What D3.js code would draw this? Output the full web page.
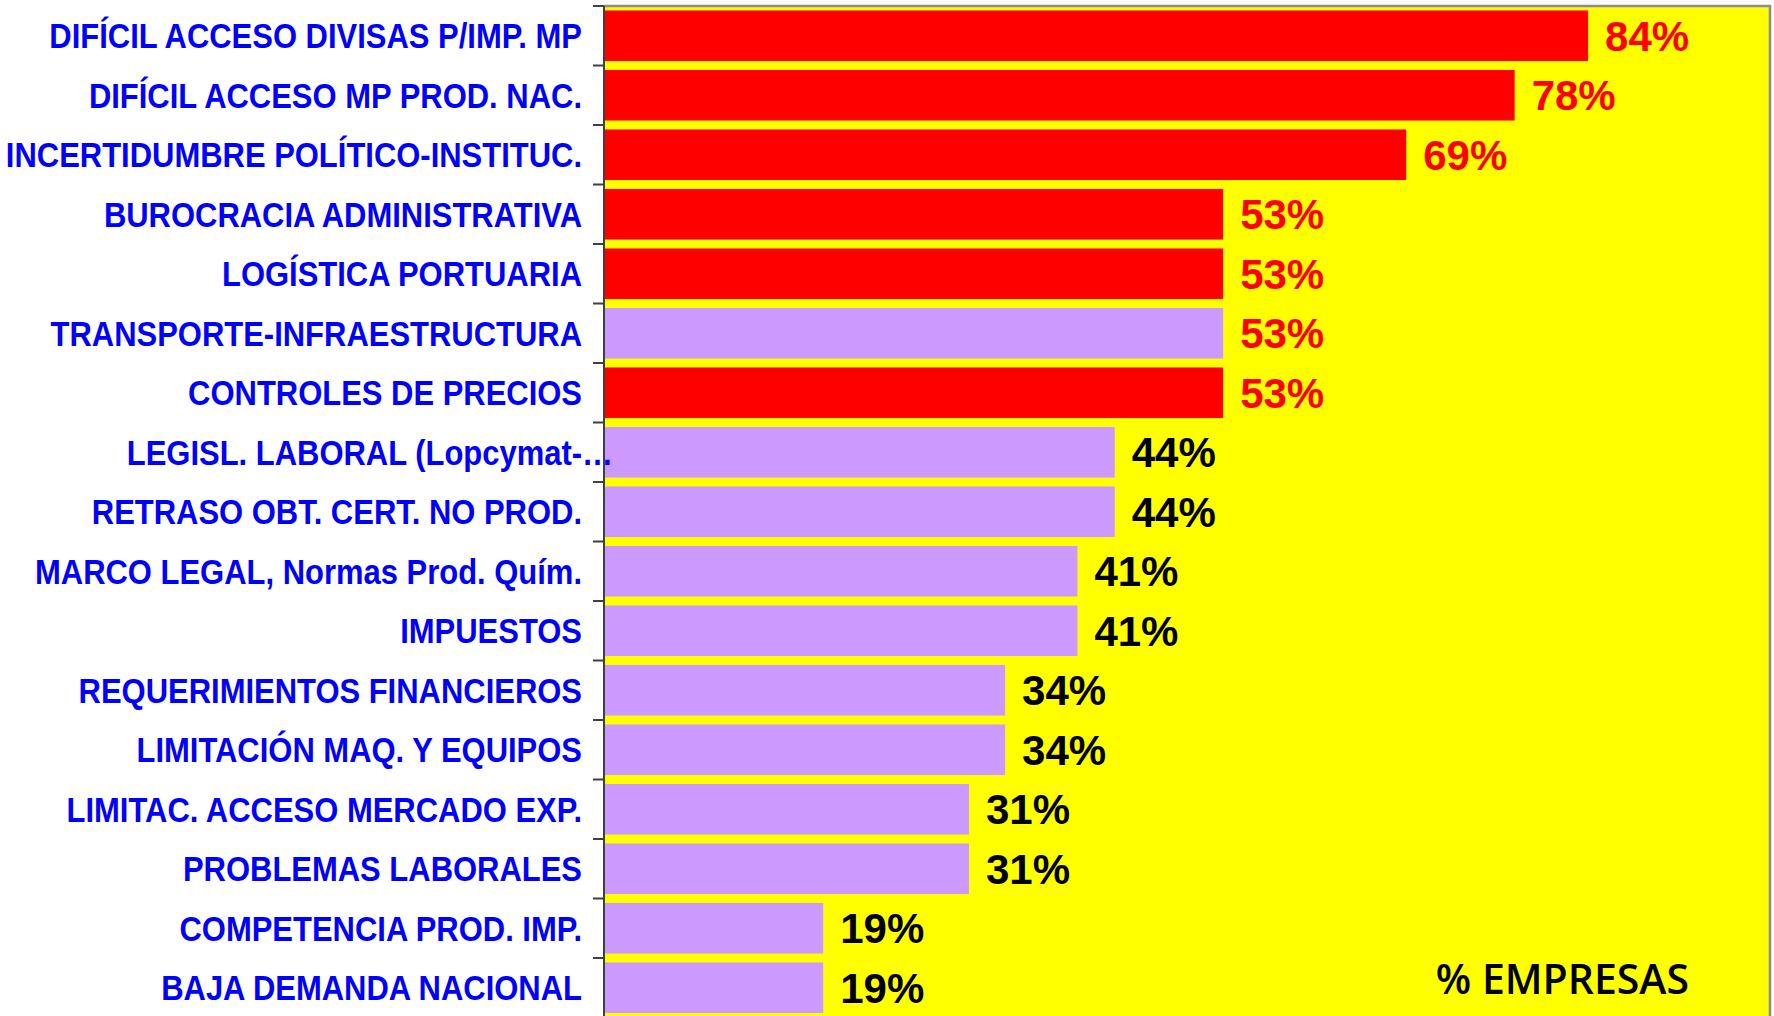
<!DOCTYPE html>
<html>
<head>
<meta charset="utf-8">
<script src="https://cdn.jsdelivr.net/npm/d3@7"></script>
<style>
  body { margin: 0; background: #fff; }
  svg { display: block; }
  .cat { font-family: "Liberation Sans", Arial, sans-serif; font-weight: bold; fill: #0000FF; }
  .val { font-family: "Liberation Sans", Arial, sans-serif; font-weight: bold; }
  .unit { font-family: "Open Sans", "DejaVu Sans", sans-serif; font-weight: 600; fill: #000; }
</style>
</head>
<body>
<svg id="chart" width="1774" height="1016"></svg>
<script>
// categorias (de arriba hacia abajo)
var categorias = [
  "DIFÍCIL ACCESO DIVISAS P/IMP. MP",
  "DIFÍCIL ACCESO MP PROD. NAC.",
  "INCERTIDUMBRE POLÍTICO-INSTITUC.",
  "BUROCRACIA ADMINISTRATIVA",
  "LOGÍSTICA PORTUARIA",
  "TRANSPORTE-INFRAESTRUCTURA",
  "CONTROLES DE PRECIOS",
  "LEGISL. LABORAL (Lopcymat-…",
  "RETRASO OBT. CERT. NO PROD.",
  "MARCO LEGAL, Normas Prod. Quím.",
  "IMPUESTOS",
  "REQUERIMIENTOS FINANCIEROS",
  "LIMITACIÓN MAQ. Y EQUIPOS",
  "LIMITAC. ACCESO MERCADO EXP.",
  "PROBLEMAS LABORALES",
  "COMPETENCIA PROD. IMP.",
  "BAJA DEMANDA NACIONAL"
];

// % de empresas
var valores = [0.844, 0.781, 0.688, 0.531, 0.531, 0.531, 0.531, 0.438, 0.438,
               0.406, 0.406, 0.344, 0.344, 0.313, 0.313, 0.188, 0.188];

// barras destacadas en rojo
var destacados = [true, true, true, true, true, false, true, false, false,
                  false, false, false, false, false, false, false, false];

var unidad = "% EMPRESAS";

var svg = d3.select("#chart");

var plotL = 604, plotR = 1770, plotT = 6, plotB = 1017.5;

var x = d3.scaleLinear().domain([0, 1]).range([plotL, plotR]);
var y = d3.scaleBand()
  .domain(categorias)
  .range([plotT, plotB])
  .paddingInner(0.15)
  .paddingOuter(0.075);

var barColor = d3.scaleOrdinal().domain([true, false]).range(["#FF0000", "#CC99FF"]);
// etiquetas en rojo a partir del 50%
var labelColor = d3.scaleThreshold().domain([0.5]).range(["#000000", "#FF0000"]);
var fmt = d3.format(".0%");

var data = categorias.map((c, i) => ({ cat: c, v: valores[i], hi: destacados[i] }));

// fondo del area de trazado
svg.append("rect")
  .attr("x", plotL).attr("y", plotT)
  .attr("width", plotR - plotL).attr("height", plotB - plotT)
  .attr("fill", "#FFFF00");

// barras
svg.selectAll(".bar")
  .data(data)
  .enter()
  .append("rect")
  .attr("class", "bar")
  .attr("x", plotL)
  .attr("y", d => y(d.cat))
  .attr("width", d => x(d.v) - plotL)
  .attr("height", y.bandwidth())
  .attr("fill", d => barColor(d.hi));

// etiquetas de valor
svg.selectAll(".val")
  .data(data)
  .enter()
  .append("text")
  .attr("class", "val")
  .attr("x", d => x(d.v) + 17)
  .attr("y", d => y(d.cat) + y.bandwidth() / 2)
  .attr("dy", "0.36em")
  .attr("font-size", 42)
  .attr("fill", d => labelColor(d.v))
  .text(d => fmt(d.v));

// borde superior y derecho
svg.append("path")
  .attr("d", "M" + plotL + "," + plotT + "H" + plotR + "V" + 1016)
  .attr("fill", "none")
  .attr("stroke", "#8c8c8c")
  .attr("stroke-width", 2.5);

// eje de categorias: marcas entre categorias
var gap = y.step() * y.paddingInner() / 2;
var cortes = d3.range(categorias.length + 1).map(i => plotT + y.step() * y.paddingOuter() - gap + i * y.step());

svg.selectAll(".tick")
  .data(cortes)
  .enter()
  .append("line")
  .attr("x1", plotL - 11).attr("x2", plotL)
  .attr("y1", d => d).attr("y2", d => d)
  .attr("stroke", "#404040")
  .attr("stroke-width", 2);

svg.append("line")
  .attr("x1", plotL).attr("x2", plotL)
  .attr("y1", plotT).attr("y2", 1016)
  .attr("stroke", "#404040")
  .attr("stroke-width", 2);

// etiquetas de categoria (fuente condensada)
var sx = 0.885;
var cats = svg.selectAll(".cat")
  .data(data)
  .enter()
  .append("text")
  .attr("class", "cat")
  .attr("font-size", 35)
  .attr("text-anchor", "end")
  .attr("dy", "0.36em")
  .text(d => d.cat);

cats.each(function(d) {
  var t = d3.select(this);
  var shift = 0;
  if (d.cat.endsWith("…")) {
    // la elipsis sobresale del margen, como en Excel
    var n = d.cat.length;
    shift = this.getSubStringLength(n - 1, 1) * sx;
  }
  t.attr("transform", "translate(" + (plotL - 22 + shift) + "," + (y(d.cat) + y.bandwidth() / 2) + ") scale(" + sx + ",1)");
});

// titulo del eje de valores
svg.append("text")
  .attr("class", "unit")
  .attr("x", 1689)
  .attr("y", 994)
  .attr("text-anchor", "end")
  .attr("font-size", 41)
  .text(unidad);
</script>
</body>
</html>
